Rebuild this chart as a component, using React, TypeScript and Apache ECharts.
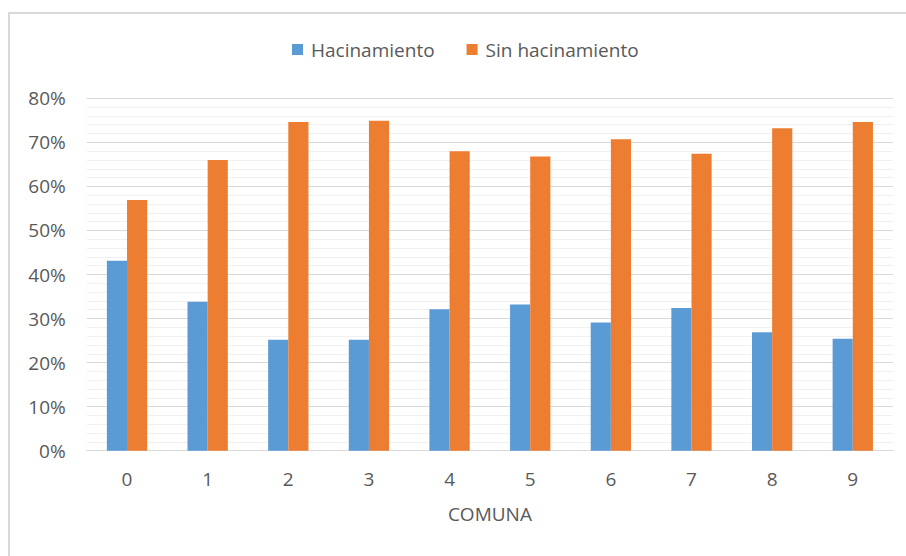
import React, { useEffect, useRef } from "react";
import * as echarts from "echarts";

const categories = ["0", "1", "2", "3", "4", "5", "6", "7", "8", "9"];
const hacinamiento = [43.1, 33.8, 25.2, 25.2, 32.1, 33.2, 29.1, 32.4, 26.9, 25.4];
const sinHacinamiento = [56.9, 66.0, 74.6, 74.9, 68.0, 66.8, 70.7, 67.4, 73.2, 74.6];
const yTicks = { min: 0, max: 80, interval: 10 };

const FONT = "'Open Sans', 'Liberation Sans', sans-serif";
const TEXT = "#595959";
const FS = 19;

export default function App() {
  const ref = useRef<HTMLDivElement>(null);
  useEffect(() => {
    document.body.style.margin = "0";
    const chart = echarts.init(ref.current!, null, { renderer: "svg" });
    chart.setOption({
      animation: false,
      backgroundColor: "#ffffff",
      textStyle: { fontFamily: FONT },
      graphic: [
        {
          type: "rect",
          shape: { x: 9, y: 13, width: 1000, height: 1000 },
          style: { fill: "none", stroke: "#d9d9d9", lineWidth: 2 },
          silent: true,
        },
      ],
      legend: {
        top: 35,
        left: 287,
        itemWidth: 11,
        itemHeight: 11,
        itemGap: 32,
        icon: "rect",
        textStyle: { fontSize: FS, color: TEXT, fontFamily: FONT, padding: [0, 0, 0, 3] },
        data: ["Hacinamiento", "Sin hacinamiento"],
      },
      grid: { left: 86.7, right: 12.9, top: 98.3, bottom: 105.3, containLabel: false },
      xAxis: {
        type: "category",
        data: categories,
        name: "COMUNA",
        nameLocation: "middle",
        nameGap: 54,
        nameTextStyle: { fontSize: FS, color: TEXT, fontFamily: FONT },
        axisTick: { show: false },
        axisLine: { lineStyle: { color: "#d9d9d9", width: 1 } },
        axisLabel: { fontSize: FS, color: TEXT, margin: 19, fontFamily: FONT },
      },
      yAxis: {
        type: "value",
        min: yTicks.min,
        max: yTicks.max,
        interval: yTicks.interval,
        axisLine: { show: false },
        axisTick: { show: false },
        axisLabel: { fontSize: FS, color: TEXT, margin: 21, formatter: "{value}%", fontFamily: FONT },
        splitLine: { lineStyle: { color: "#d9d9d9", width: 1 } },
        minorTick: { show: false, splitNumber: 5 },
        minorSplitLine: { show: true, lineStyle: { color: "#f0f0f0", width: 1 } },
      },
      series: [
        {
          name: "Hacinamiento",
          type: "bar",
          data: hacinamiento,
          barGap: "0%",
          barCategoryGap: "50%",
          itemStyle: { color: "#5B9BD5" },
        },
        {
          name: "Sin hacinamiento",
          type: "bar",
          data: sinHacinamiento,
          barGap: "0%",
          barCategoryGap: "50%",
          itemStyle: { color: "#ED7D31" },
        },
      ],
    });
    return () => chart.dispose();
  }, []);
  return <div ref={ref} style={{ width: 906, height: 556 }} />;
}
